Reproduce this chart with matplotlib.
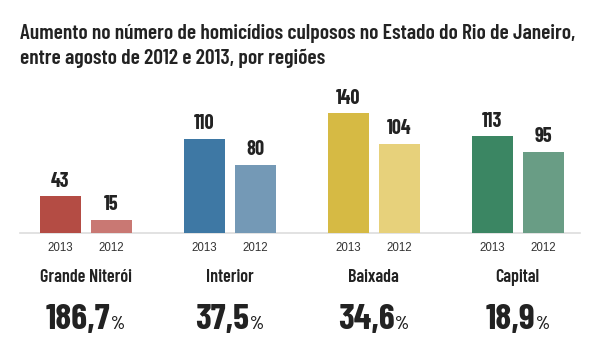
import matplotlib
matplotlib.use("Agg")
import matplotlib.pyplot as plt

regions = ["Grande Niterói", "Interior", "Baixada", "Capital"]
years = ["2013", "2012"]
v2013 = [43, 110, 140, 113]
v2012 = [15, 80, 104, 95]
pct = ["186,7", "37,5", "34,6", "18,9"]
c2013 = ["#b44c44", "#3e78a4", "#d6ba44", "#3b8663"]
c2012 = ["#c97873", "#7499b6", "#e7d17b", "#699d85"]

COND = ["Barlow Condensed", "DejaVu Sans"]
REG = ["Liberation Sans", "DejaVu Sans"]
TXT = "#222222"

W, H = 600, 359
fig = plt.figure(figsize=(W / 100, H / 100), dpi=100)
ax = fig.add_axes([0, 0, 1, 1])
ax.set_axis_off()

# pixel mapping: group centre x = 85.5 + 144*i ; baseline y = 233 px, 0.855 px/unit
pxu = 144.0
x0 = 85.5
ax.set_xlim(-x0 / pxu, (W - x0) / pxu)
ppv = 0.855
base = 233
ax.set_ylim(-(H - base) / ppv, base / ppv)

def py(p):  # pixel-from-top to data y
    return (base - p) / ppv

bw = 41 / pxu
off = 25.5 / pxu
for i in range(len(regions)):
    for j, (vals, cols) in enumerate([(v2013, c2013), (v2012, c2012)]):
        x = i + (-off if j == 0 else off)
        ax.bar(x, vals[i], width=bw, color=cols[i], zorder=2)
        ax.annotate(str(vals[i]), (x, vals[i]), xytext=(0, 7), textcoords="offset points",
                    ha="center", va="baseline", fontsize=14.5, fontweight=700,
                    family=COND, color=TXT)
        ax.text(x, py(251), years[j], ha="center", va="baseline", fontsize=8.3,
                family=REG, color="#333333")

ax.plot([(20 - x0) / pxu, (580 - x0) / pxu], [0, 0], color="#dddddd", lw=1.2, zorder=1)

fig.canvas.draw()
renderer = fig.canvas.get_renderer()
for i, r in enumerate(regions):
    ax.text(i, py(282), r, ha="center", va="baseline", fontsize=13, fontweight=600,
            family=COND, color=TXT)
    t = ax.text(0, py(329), pct[i], ha="left", va="baseline", fontsize=26, fontweight=700,
                family=COND, color=TXT)
    p = ax.text(0, py(329), "%", ha="left", va="baseline", fontsize=13, fontweight=600,
                family=COND, color=TXT)
    wn = t.get_window_extent(renderer).width
    wp = p.get_window_extent(renderer).width
    gap = 1.0
    total = wn + gap + wp
    left = i - (total / 2) / pxu
    t.set_x(left)
    p.set_x(left + (wn + gap) / pxu)

fig.text(20 / W, 1 - 39 / H, "Aumento no número de homicídios culposos no Estado do Rio de Janeiro,",
         ha="left", va="baseline", fontsize=15.5, fontweight=600, family=COND, color=TXT)
fig.text(20 / W, 1 - 64 / H, "entre agosto de 2012 e 2013, por regiões",
         ha="left", va="baseline", fontsize=15.5, fontweight=600, family=COND, color=TXT)

fig.savefig("out.png", dpi=100, facecolor="white")
